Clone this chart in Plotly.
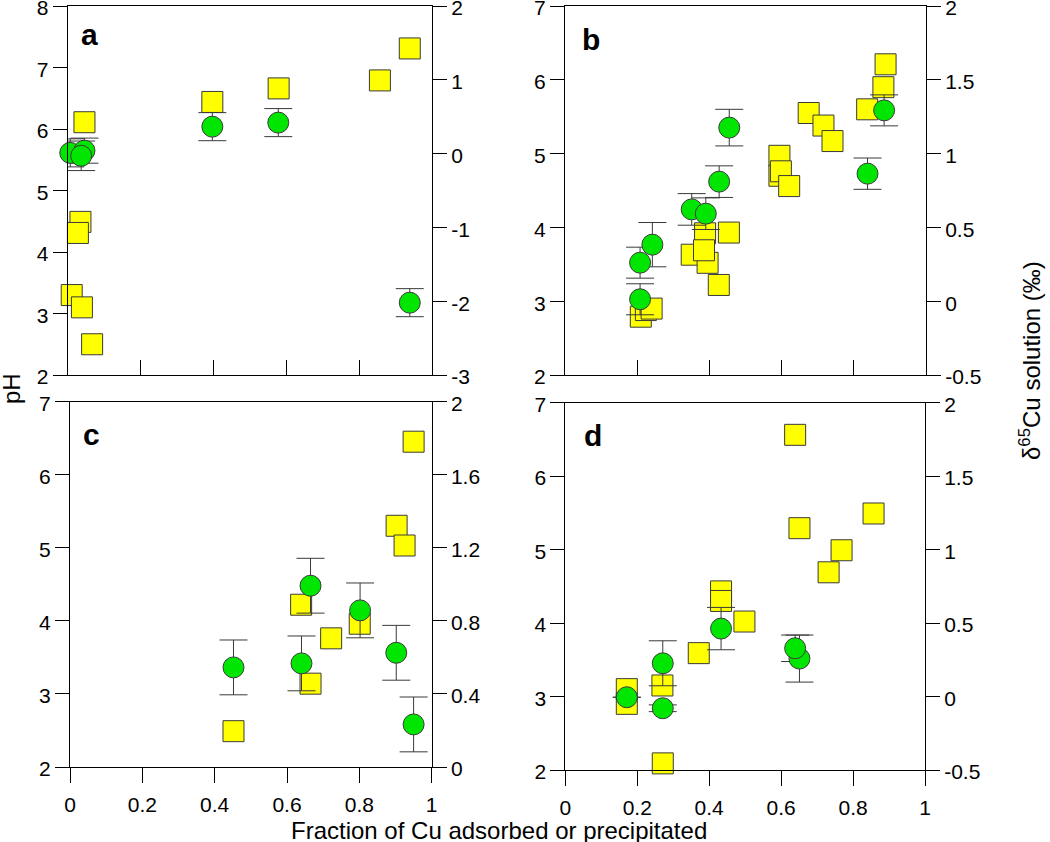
import plotly.graph_objects as go

# ---------------- data ----------------
# Panel a
a_ph_x = [0.046, 0.035, 0.028, 0.011, 0.039, 0.067, 0.397, 0.579, 0.857, 0.939]
a_ph = [6.11, 4.49, 4.31, 3.30, 3.10, 2.50, 6.44, 6.66, 6.79, 7.31]
a_cu_x = [0.007, 0.046, 0.037, 0.397, 0.578, 0.939]
a_cu = [0.01, 0.04, -0.03, 0.365, 0.42, -2.02]
a_cu_err = [0.19, 0.17, 0.2, 0.19, 0.19, 0.19]

# Panel b
b_ph_x = [0.210, 0.224, 0.240, 0.351, 0.395, 0.388, 0.385, 0.426, 0.454, 0.594, 0.594,
          0.598, 0.621, 0.675, 0.716, 0.741, 0.837, 0.882, 0.888]
b_ph = [2.79, 2.88, 2.90, 3.63, 3.52, 3.92, 3.69, 3.22, 3.93, 4.97, 4.70,
        4.76, 4.56, 5.55, 5.38, 5.17, 5.60, 5.90, 6.21]
b_cu_x = [0.208, 0.242, 0.208, 0.351, 0.390, 0.427, 0.455, 0.838, 0.884]
b_cu = [0.261, 0.383, 0.013, 0.622, 0.593, 0.81, 1.176, 0.864, 1.293]
b_cu_err = [0.105, 0.15, 0.105, 0.107, 0.107, 0.107, 0.124, 0.106, 0.105]

# Panel c
c_ph_x = [0.452, 0.639, 0.665, 0.722, 0.801, 0.903, 0.925, 0.950]
c_ph = [2.49, 4.22, 3.14, 3.76, 3.96, 5.30, 5.03, 6.45]
c_cu_x = [0.452, 0.640, 0.665, 0.802, 0.902, 0.950]
c_cu = [0.545, 0.567, 0.992, 0.857, 0.625, 0.233]
c_cu_err = [0.15, 0.15, 0.15, 0.15, 0.15, 0.15]

# Panel d
d_ph_x = [0.171, 0.171, 0.270, 0.271, 0.371, 0.433, 0.433, 0.498, 0.639, 0.651, 0.732, 0.768, 0.857]
d_ph = [3.10, 2.90, 3.15, 2.09, 3.59, 4.43, 4.30, 4.02, 6.56, 5.29, 4.69, 4.99, 5.49]
d_cu_x = [0.171, 0.271, 0.271, 0.433, 0.651, 0.639]
d_cu = [-0.005, 0.226, -0.08, 0.462, 0.258, 0.328]
d_cu_err = [0.0, 0.153, 0.023, 0.144, 0.16, 0.09]

# ticks
x_ticks = [0, 0.2, 0.4, 0.6, 0.8, 1]
x_tick_text = ["0", "0.2", "0.4", "0.6", "0.8", "1"]
ph_ticks_a = [2, 3, 4, 5, 6, 7, 8]
ph_ticks = [2, 3, 4, 5, 6, 7]
cu_ticks_a = [-3, -2, -1, 0, 1, 2]
cu_text_a = ["-3", "-2", "-1", "0", "1", "2"]
cu_ticks_bd = [-0.5, 0, 0.5, 1, 1.5, 2]
cu_text_bd = ["-0.5", "0", "0.5", "1", "1.5", "2"]
cu_ticks_c = [0, 0.4, 0.8, 1.2, 1.6, 2]
cu_text_c = ["0", "0.4", "0.8", "1.2", "1.6", "2"]

# ---------------- layout helpers ----------------
W, H = 1050, 842
FONT = "Liberation Sans, Arial, Helvetica, sans-serif"
TICK_SIZE = 21
TITLE_SIZE = 24
SQ_COLOR = "#FFFF00"
CI_COLOR = "#00E600"
EDGE = "#3a3a3a"


def fx(p):
    return p / W


def fy(p):
    return 1 - p / H


panels = [
    dict(letter="a", ph_x=a_ph_x, ph=a_ph, cu_x=a_cu_x, cu=a_cu, err=a_cu_err,
         xd=(67.7, 432.0), yd=(6.0, 375.0), ph_range=(2, 8), phv=ph_ticks_a,
         cu_range=(-3, 2), cuv=cu_ticks_a, cut=cu_text_a,
         xlabels=False, lpos=(89, 34)),
    dict(letter="b", ph_x=b_ph_x, ph=b_ph, cu_x=b_cu_x, cu=b_cu, err=b_cu_err,
         xd=(565.0, 926.0), yd=(6.0, 375.0), ph_range=(2, 7), phv=ph_ticks,
         cu_range=(-0.5, 2), cuv=cu_ticks_bd, cut=cu_text_bd,
         xlabels=False, lpos=(591, 39)),
    dict(letter="c", ph_x=c_ph_x, ph=c_ph, cu_x=c_cu_x, cu=c_cu, err=c_cu_err,
         xd=(70.0, 431.7), yd=(401.5, 767.0), ph_range=(2, 7), phv=ph_ticks,
         cu_range=(0, 2), cuv=cu_ticks_c, cut=cu_text_c,
         xlabels=True, lpos=(91, 434)),
    dict(letter="d", ph_x=d_ph_x, ph=d_ph, cu_x=d_cu_x, cu=d_cu, err=d_cu_err,
         xd=(565.3, 925.0), yd=(402.5, 770.0), ph_range=(2, 7), phv=ph_ticks,
         cu_range=(-0.5, 2), cuv=cu_ticks_bd, cut=cu_text_bd,
         xlabels=True, lpos=(593, 436)),
]

fig = go.Figure()
layout = dict(
    width=W, height=H,
    margin=dict(l=0, r=0, t=0, b=0, pad=0, autoexpand=False),
    paper_bgcolor="white", plot_bgcolor="rgba(0,0,0,0)",
    showlegend=False,
    font=dict(family=FONT, size=TICK_SIZE, color="black"),
    annotations=[],
)

for i, p in enumerate(panels):
    xn = "x" if i == 0 else f"x{i + 1}"
    yl = 2 * i + 1
    yr = 2 * i + 2
    yln = "y" if yl == 1 else f"y{yl}"
    yrn = f"y{yr}"
    xkey = "xaxis" if i == 0 else f"xaxis{i + 1}"
    ylkey = "yaxis" if yl == 1 else f"yaxis{yl}"
    yrkey = f"yaxis{yr}"

    fig.add_trace(go.Scatter(
        x=p["ph_x"], y=p["ph"], mode="markers", xaxis=xn, yaxis=yln,
        marker=dict(symbol="square", size=21, color=SQ_COLOR,
                    line=dict(color=EDGE, width=1)),
        cliponaxis=False, hoverinfo="skip"))
    fig.add_trace(go.Scatter(
        x=p["cu_x"], y=p["cu"], mode="markers", xaxis=xn, yaxis=yrn,
        marker=dict(symbol="circle", size=21, color=CI_COLOR,
                    line=dict(color=EDGE, width=1)),
        error_y=dict(type="data", array=p["err"], visible=True,
                     color=EDGE, thickness=1, width=14),
        cliponaxis=False, hoverinfo="skip"))

    xin = not p["xlabels"]
    layout[xkey] = dict(
        domain=[fx(p["xd"][0]), fx(p["xd"][1])], anchor=yln, automargin=False,
        range=[0, 1], tickmode="array", tickvals=x_ticks, ticktext=x_tick_text,
        showticklabels=p["xlabels"], ticks="inside" if xin else "outside",
        ticklen=15, tickwidth=1, tickcolor="black",
        showline=True, linecolor="black", linewidth=1, mirror=True,
        showgrid=False, zeroline=False, ticklabeloverflow="allow",
        tickfont=dict(family=FONT, size=TICK_SIZE, color="black"),
        ticklabelstandoff=4,
    )
    layout[ylkey] = dict(
        domain=[fy(p["yd"][1]), fy(p["yd"][0])], anchor=xn, side="left", automargin=False,
        range=list(p["ph_range"]), tickmode="array", tickvals=p["phv"],
        ticktext=[str(v) for v in p["phv"]], ticklabeloverflow="allow",
        ticklabelshift=2,
        ticks="outside", ticklen=14, tickwidth=1, tickcolor="black",
        showline=True, linecolor="black", linewidth=1,
        showgrid=False, zeroline=False,
        tickfont=dict(family=FONT, size=TICK_SIZE, color="black"),
    )
    layout[yrkey] = dict(
        domain=[fy(p["yd"][1]), fy(p["yd"][0])], anchor=xn, side="right", automargin=False,
        overlaying=yln, range=list(p["cu_range"]), tickmode="array",
        tickvals=p["cuv"], ticktext=p["cut"], ticklabeloverflow="allow",
        ticklabelshift=2,
        ticks="outside", ticklen=14, tickwidth=1, tickcolor="black",
        showline=True, linecolor="black", linewidth=1,
        showgrid=False, zeroline=False,
        tickfont=dict(family=FONT, size=TICK_SIZE, color="black"),
    )
    layout["annotations"].append(dict(
        text=f"<b>{p['letter']}</b>", x=fx(p["lpos"][0]), y=fy(p["lpos"][1]),
        xref="paper", yref="paper", showarrow=False, xanchor="center", yanchor="middle",
        font=dict(family=FONT, size=30, color="black")))

layout["annotations"] += [
    dict(text="pH", x=fx(11), y=fy(389), xref="paper", yref="paper", showarrow=False,
         textangle=-90, xanchor="center", yanchor="middle",
         font=dict(family=FONT, size=TITLE_SIZE, color="black")),
    dict(text="δ<sup>65</sup>Cu solution (‰)", x=fx(1030), y=fy(361), xref="paper", yref="paper",
         showarrow=False, textangle=-90, xanchor="center", yanchor="middle",
         font=dict(family=FONT, size=TITLE_SIZE, color="black")),
    dict(text="Fraction of Cu adsorbed or precipitated", x=fx(499), y=fy(830),
         xref="paper", yref="paper", showarrow=False, xanchor="center", yanchor="middle",
         font=dict(family=FONT, size=TITLE_SIZE, color="black")),
]

fig.update_layout(**layout)
fig.write_html("out.html", config={"displayModeBar": False},
               post_script="document.body.style.margin='0';document.body.style.padding='0';")
